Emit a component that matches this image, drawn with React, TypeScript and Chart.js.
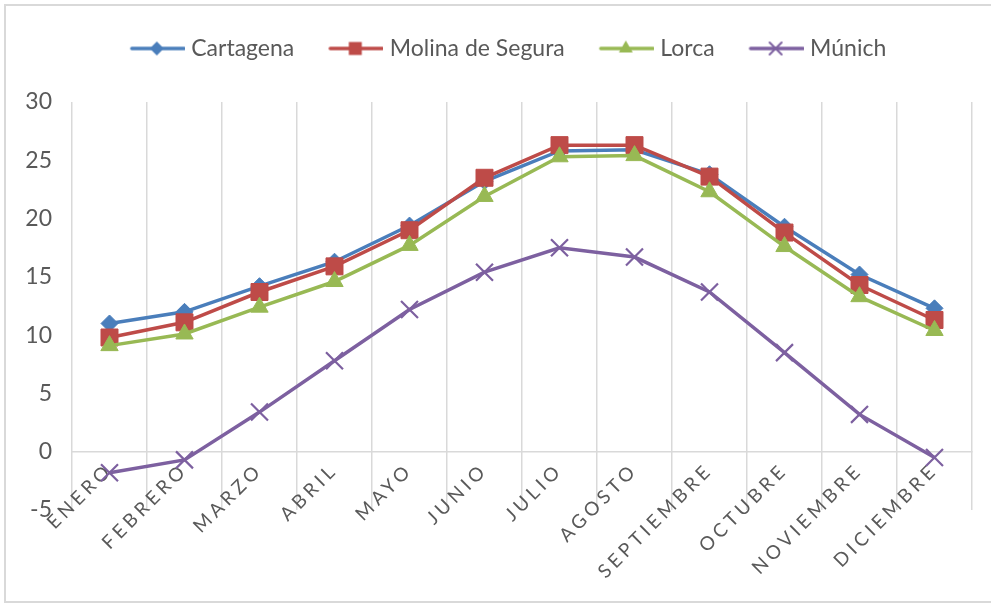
import React, { useEffect, useRef } from 'react';
import { Chart, registerables } from 'chart.js';

Chart.register(...registerables);

const months = ['ENERO', 'FEBRERO', 'MARZO', 'ABRIL', 'MAYO', 'JUNIO', 'JULIO', 'AGOSTO', 'SEPTIEMBRE', 'OCTUBRE', 'NOVIEMBRE', 'DICIEMBRE'];
const seriesNames = ['Cartagena', 'Molina de Segura', 'Lorca', 'Múnich'];
const cartagena = [11.0, 12.0, 14.2, 16.3, 19.4, 23.2, 25.8, 25.9, 23.8, 19.3, 15.2, 12.3];
const molina = [9.8, 11.1, 13.7, 15.9, 19.0, 23.5, 26.3, 26.3, 23.6, 18.8, 14.3, 11.3];
const lorca = [9.1, 10.1, 12.4, 14.6, 17.7, 21.9, 25.3, 25.4, 22.3, 17.6, 13.3, 10.4];
const munich = [-1.8, -0.7, 3.4, 7.8, 12.2, 15.4, 17.5, 16.7, 13.7, 8.5, 3.2, -0.5];
const yMin = -5;
const yMax = 30;
const yStep = 5;

const colors = ['#4A7EBB', '#BE4B48', '#98B954', '#7D60A0'];
const pointStyles = ['rectRot', 'rect', 'triangle', 'crossRot'];
const pointRadii = [8.5, 12, 10, 12];
const textColor = '#595959';
const gridColor = '#D9D9D9';
const FONT = 'Lato';

const LEG_LINE = 55;
const LEG_W = 84;
const LEG_H = 24;

function makeLegendIcon(color: string, style: string): HTMLCanvasElement {
  const c = document.createElement('canvas');
  c.width = LEG_W;
  c.height = LEG_H;
  const ctx = c.getContext('2d')!;
  const cy = LEG_H / 2;
  const x0 = LEG_W - LEG_LINE;
  const x1 = LEG_W - 1;
  ctx.strokeStyle = color;
  ctx.fillStyle = color;
  ctx.lineWidth = 3.5;
  ctx.lineCap = 'round';
  ctx.beginPath();
  ctx.moveTo(x0 + 2, cy);
  ctx.lineTo(x1, cy);
  ctx.stroke();
  const cx = (x0 + x1) / 2;
  ctx.beginPath();
  if (style === 'rectRot') {
    const r = 7;
    ctx.moveTo(cx, cy - r);
    ctx.lineTo(cx + r, cy);
    ctx.lineTo(cx, cy + r);
    ctx.lineTo(cx - r, cy);
    ctx.closePath();
    ctx.fill();
  } else if (style === 'rect') {
    ctx.rect(cx - 6.5, cy - 6.5, 13, 13);
    ctx.fill();
  } else if (style === 'triangle') {
    const r = 8;
    ctx.moveTo(cx, cy - r);
    ctx.lineTo(cx + r * 0.866, cy + r * 0.5);
    ctx.lineTo(cx - r * 0.866, cy + r * 0.5);
    ctx.closePath();
    ctx.fill();
  } else {
    const a = 6;
    ctx.lineWidth = 2;
    ctx.moveTo(cx - a, cy - a);
    ctx.lineTo(cx + a, cy + a);
    ctx.moveTo(cx + a, cy - a);
    ctx.lineTo(cx - a, cy + a);
    ctx.stroke();
  }
  return c;
}

const layoutPlugin = {
  id: 'excelLook',
  beforeLayout(chart: any) {
    const lg = chart.legend;
    if (lg && !lg.__patched) {
      const f = lg.fit.bind(lg);
      lg.fit = () => {
        f();
        lg.height = 75;
      };
      lg.__patched = true;
    }
  },
  afterLayout(chart: any) {
    const lg = chart.legend;
    if (lg) {
      lg.left += 10;
      lg.right += 10;
    }
  },
  beforeDraw(chart: any) {
    const xs = chart.scales.x;
    if (xs && !xs.__patched) {
      const orig = xs.drawLabels.bind(xs);
      xs.drawLabels = (area: any) => {
        const ctx = chart.ctx;
        ctx.save();
        (ctx as any).letterSpacing = '4px';
        orig(area);
        ctx.restore();
      };
      xs.__patched = true;
    }
  },
};

export default function App() {
  const ref = useRef<HTMLCanvasElement | null>(null);

  useEffect(() => {
    if (!ref.current) return;
    const values = [cartagena, molina, lorca, munich];
    const icons = colors.map((c, i) => makeLegendIcon(c, pointStyles[i]));
    const datasets = seriesNames.map((name, i) => ({
      label: name,
      data: values[i],
      borderColor: colors[i],
      backgroundColor: colors[i],
      borderWidth: 3.5,
      pointStyle: pointStyles[i] as any,
      pointRadius: pointRadii[i],
      pointBorderWidth: i === 3 ? 2.2 : 1,
      pointBackgroundColor: colors[i],
      pointBorderColor: colors[i],
      tension: 0,
      order: 4 - i,
    }));

    const chart = new Chart(ref.current, {
      type: 'line',
      data: { labels: months, datasets },
      plugins: [layoutPlugin],
      options: {
        responsive: false,
        animation: false,
        devicePixelRatio: 1,
        layout: { padding: { left: 0, right: 19, top: 27, bottom: 94 } },
        plugins: {
          tooltip: { enabled: false },
          legend: {
            display: true,
            position: 'top',
            align: 'center',
            labels: {
              usePointStyle: true,
              pointStyleWidth: LEG_W - 10,
              padding: 10,
              color: textColor,
              font: { family: FONT, size: 23 },
              generateLabels: () =>
                seriesNames.map((name, i) => ({
                  text: name,
                  fillStyle: colors[i],
                  strokeStyle: colors[i],
                  lineWidth: 0,
                  pointStyle: icons[i] as any,
                  hidden: false,
                  datasetIndex: i,
                  fontColor: textColor,
                })),
            },
          },
        },
        scales: {
          x: {
            type: 'category',
            position: { y: 0 } as any,
            offset: true,
            afterFit: (s: any) => {
              s.height = 0;
            },
            grid: {
              display: true,
              offset: true,
              color: gridColor,
              lineWidth: 1.5,
              drawTicks: false,
            },
            border: { display: true, color: gridColor, width: 1.5 },
            ticks: {
              autoSkip: false,
              minRotation: 45,
              maxRotation: 45,
              padding: 7,
              color: textColor,
              font: { family: FONT, size: 19 },
            },
          },
          y: {
            type: 'linear',
            min: yMin,
            max: yMax,
            afterFit: (s: any) => {
              s.width = 72;
            },
            grid: { display: false, drawTicks: false },
            border: { display: false },
            ticks: {
              stepSize: yStep,
              padding: 20,
              color: textColor,
              font: { family: FONT, size: 23 },
            },
          },
        },
      },
    });
    return () => chart.destroy();
  }, []);

  return (
    <div style={{ position: 'fixed', left: 0, top: 0, width: 991, height: 604, overflow: 'hidden', background: '#ffffff' }}>
      <div style={{ position: 'absolute', left: 4, top: 4, width: 1000, height: 599, border: '2px solid #D9D9D9', boxSizing: 'border-box' }} />
      <canvas ref={ref} width={991} height={604} style={{ position: 'absolute', left: 0, top: 0, width: 991, height: 604 }} />
    </div>
  );
}
